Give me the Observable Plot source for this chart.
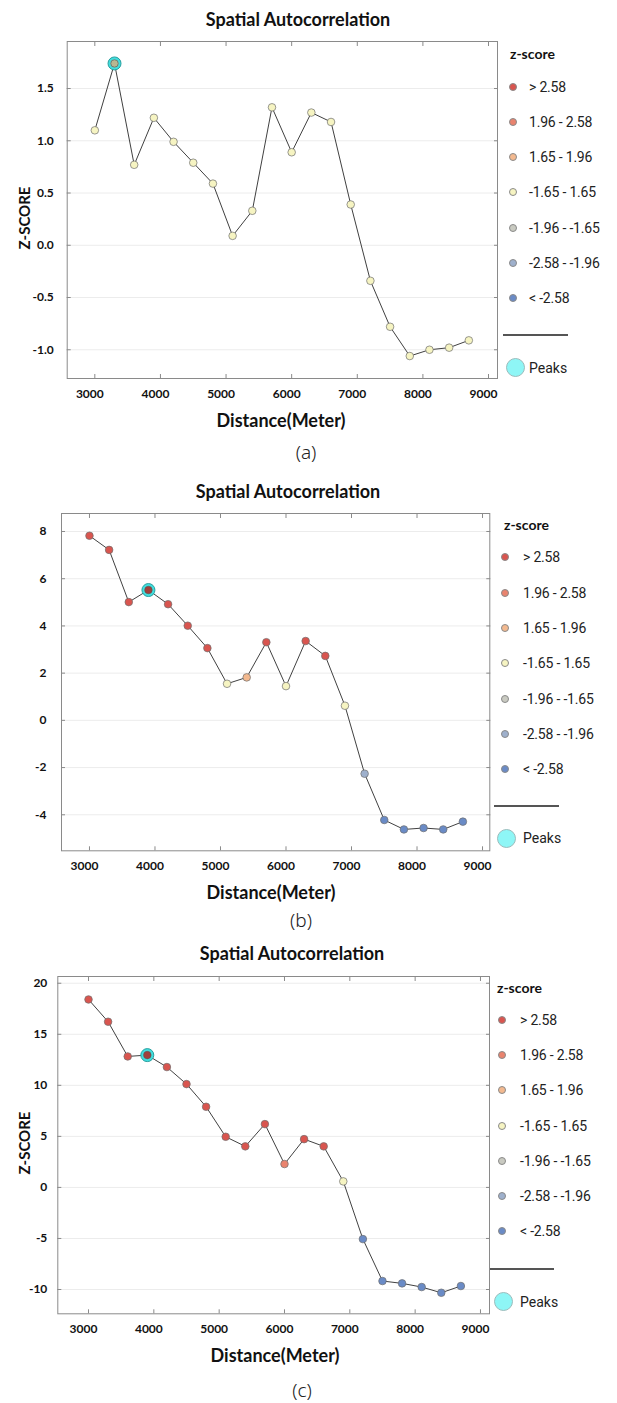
<!DOCTYPE html>
<html>
<head>
<meta charset="utf-8">
<script src="https://cdn.jsdelivr.net/npm/d3@7"></script>
<script src="https://cdn.jsdelivr.net/npm/@observablehq/plot@0.6"></script>
<style>
  body { margin: 0; background: #fff; }
  #root { position: relative; width: 617px; height: 1403px; background: #fff; overflow: hidden; font-family: Lato, "Open Sans", sans-serif; }
  .t { position: absolute; white-space: nowrap; }
  .dot { position: absolute; border-radius: 50%; box-sizing: border-box; }
</style>
</head>
<body>
<div id="root"></div>
<script>
// ---------- data ----------
const distances = [3000, 3300, 3600, 3900, 4200, 4500, 4800, 5100, 5400, 5700,
                   6000, 6300, 6600, 6900, 7200, 7500, 7800, 8100, 8400, 8700];
const zScoreA = [1.10, 1.74, 0.77, 1.22, 0.99, 0.79, 0.59, 0.09, 0.33, 1.32,
                 0.89, 1.27, 1.18, 0.39, -0.34, -0.78, -1.06, -1.00, -0.98, -0.91];
const zScoreB = [7.82, 7.22, 5.01, 5.52, 4.92, 4.01, 3.06, 1.55, 1.82, 3.31,
                 1.45, 3.36, 2.73, 0.62, -2.26, -4.22, -4.62, -4.56, -4.62, -4.29];
const zScoreC = [18.41, 16.23, 12.83, 12.96, 11.79, 10.12, 7.90, 4.96, 4.02, 6.20,
                 2.29, 4.73, 4.02, 0.59, -5.06, -9.17, -9.40, -9.76, -10.32, -9.66];
// class of each point, as coloured in the picture
const legendLabels = ["> 2.58", "1.96 - 2.58", "1.65 - 1.96", "-1.65 - 1.65", "-1.96 - -1.65", "-2.58 - -1.96", "< -2.58"];
const classColors = ["#d9554f", "#e9836e", "#f3b98f", "#f6f4c2", "#c9cac1", "#9eb0cc", "#6a8bc6"];
const classA = ["-1.65 - 1.65", "-1.65 - 1.65", "-1.65 - 1.65", "-1.65 - 1.65", "-1.65 - 1.65",
                "-1.65 - 1.65", "-1.65 - 1.65", "-1.65 - 1.65", "-1.65 - 1.65", "-1.65 - 1.65",
                "-1.65 - 1.65", "-1.65 - 1.65", "-1.65 - 1.65", "-1.65 - 1.65", "-1.65 - 1.65",
                "-1.65 - 1.65", "-1.65 - 1.65", "-1.65 - 1.65", "-1.65 - 1.65", "-1.65 - 1.65"];
const classB = ["> 2.58", "> 2.58", "> 2.58", "> 2.58", "> 2.58",
                "> 2.58", "> 2.58", "-1.65 - 1.65", "1.65 - 1.96", "> 2.58",
                "-1.65 - 1.65", "> 2.58", "> 2.58", "-1.65 - 1.65", "-2.58 - -1.96",
                "< -2.58", "< -2.58", "< -2.58", "< -2.58", "< -2.58"];
const classC = ["> 2.58", "> 2.58", "> 2.58", "> 2.58", "> 2.58",
                "> 2.58", "> 2.58", "> 2.58", "> 2.58", "> 2.58",
                "1.96 - 2.58", "> 2.58", "> 2.58", "-1.65 - 1.65", "< -2.58",
                "< -2.58", "< -2.58", "< -2.58", "< -2.58", "< -2.58"];
const peakA = [3300];
const peakB = [3900];
const peakC = [3900];
const xTicks = [3000, 4000, 5000, 6000, 7000, 8000, 9000];
const yTicksA = [-1, -0.5, 0, 0.5, 1, 1.5];
const yTicksB = [-4, -2, 0, 2, 4, 6, 8];
const yTicksC = [-10, -5, 0, 5, 10, 15, 20];
const titleText = "Spatial Autocorrelation";
const xTitle = "Distance(Meter)";
const yTitle = "Z-SCORE";
const legendTitle = "z-score";
const peaksLabel = "Peaks";

// ---------- layout ----------
const panels = [
  { z: zScoreA, cls: classA, peaks: peakA, yTicks: yTicksA, fmt: d => d.toFixed(1),
    frame: {l: 66.7, r: 497, t: 41, b: 378}, xDomain: [2579, 9137], yDomain: [-1.275, 1.95], yPad: 13.5,
    title: [298, 19], xTitle: [281, 420], yTitle: [24, 218], caption: ["(a)", 306, 452],
    legend: {titleX: 510, titleY: 54, cx: 513, tx: 529, y0: 86.7, step: 35.2, lineY: 335, lineX: [503, 568], peakCX: 515, peakY: 367.7} },
  { z: zScoreB, cls: classB, peaks: peakB, yTicks: yTicksB, fmt: d => String(d),
    frame: {l: 61, r: 489.3, t: 512.7, b: 850}, xDomain: [2573, 9111], yDomain: [-5.525, 8.762], yPad: 15,
    title: [288, 491], xTitle: [271, 891.7], yTitle: null, caption: ["(b)", 301, 920],
    legend: {titleX: 504, titleY: 525, cx: 505, tx: 523, y0: 557.3, step: 35.3, lineY: 806, lineX: [494, 558.5], peakCX: 506, peakY: 838.3} },
  { z: zScoreC, cls: classC, peaks: peakC, yTicks: yTicksC, fmt: d => String(d),
    frame: {l: 57.3, r: 489, t: 976, b: 1313.3}, xDomain: [2530, 9138], yDomain: [-12.38, 20.66], yPad: 10.5,
    title: [292, 953.3], xTitle: [275, 1355], yTitle: [24, 1143], caption: ["(c)", 302, 1390],
    legend: {titleX: 497, titleY: 988.3, cx: 502, tx: 520, y0: 1020, step: 35.2, lineY: 1269, lineX: [490, 554], peakCX: 503, peakY: 1301.7} }
];

const root = document.getElementById("root");
function textAt(str, x, y, css, anchor = "middle") {
  const d = document.createElement("div");
  d.className = "t";
  d.textContent = str;
  const h = 30;
  d.style.left = x + "px";
  d.style.top = (y - h / 2) + "px";
  d.style.height = h + "px";
  d.style.lineHeight = h + "px";
  d.style.transform = anchor === "middle" ? "translateX(-50%)" : "none";
  Object.assign(d.style, css);
  root.appendChild(d);
  return d;
}
function circleAt(cx, cy, r, fill, stroke, sw) {
  const d = document.createElement("div");
  d.className = "dot";
  d.style.left = (cx - r) + "px";
  d.style.top = (cy - r) + "px";
  d.style.width = (2 * r) + "px";
  d.style.height = (2 * r) + "px";
  d.style.background = fill;
  d.style.border = `${sw}px solid ${stroke}`;
  root.appendChild(d);
}

const frameColor = "#8a8a8a";
for (const p of panels) {
  const rows = distances.map((d, i) => ({d, z: p.z[i], cls: p.cls[i]}));
  const peakRows = rows.filter(r => p.peaks.includes(r.d));
  const mt = 10, mb = 32;
  const f = p.frame;
  const chart = Plot.plot({
    width: 617,
    height: (f.b - f.t) + mt + mb,
    marginLeft: f.l,
    marginRight: 617 - f.r,
    marginTop: mt,
    marginBottom: mb,
    style: {fontFamily: "Lato, 'Open Sans', sans-serif", fontSize: "12px", color: "#111", background: "transparent", overflow: "visible"},
    x: {domain: p.xDomain},
    y: {domain: p.yDomain},
    color: {type: "ordinal", domain: legendLabels, range: classColors},
    marks: [
      Plot.gridY(p.yTicks, {stroke: "#ececec", strokeOpacity: 1}),
      Plot.frame({stroke: frameColor}),
      Plot.axisX(xTicks, {anchor: "bottom", tickSize: -4, fill: "none", stroke: frameColor, label: null}),
      Plot.axisX(xTicks, {anchor: "top", tickSize: -4, fill: "none", stroke: frameColor, label: null}),
      Plot.axisY(p.yTicks, {anchor: "left", tickSize: -4, fill: "none", stroke: frameColor, label: null}),
      Plot.axisY(p.yTicks, {anchor: "right", tickSize: -4, fill: "none", stroke: frameColor, label: null}),
      Plot.axisX(xTicks, {anchor: "bottom", tickSize: 0, tickPadding: 10.5, dx: -5, tickFormat: d => String(d), fontWeight: "bold", fontSize: 12, label: null}),
      Plot.axisY(p.yTicks, {anchor: "left", tickSize: 0, tickPadding: p.yPad, tickFormat: p.fmt, fontWeight: "bold", fontSize: 12, label: null}),
      Plot.line(rows, {x: "d", y: "z", stroke: "#404040", strokeWidth: 1}),
      Plot.dot(peakRows, {x: "d", y: "z", r: 6.5, fill: "#3fdede", stroke: "#2a9f9f", strokeWidth: 1}),
      Plot.dot(rows, {x: "d", y: "z", r: 3.8, fill: "cls", stroke: "#6f6f6f", strokeWidth: 0.7}),
      Plot.dot(peakRows, {x: "d", y: "z", r: 3.8, fill: "#000", fillOpacity: 0.25, stroke: "none"})
    ]
  });
  chart.style.position = "absolute";
  chart.style.left = "0px";
  chart.style.top = (f.t - mt) + "px";
  root.appendChild(chart);

  // title, axis titles, caption
  textAt(titleText, p.title[0], p.title[1], {fontWeight: "bold", fontSize: "18px", color: "#111"});
  textAt(xTitle, p.xTitle[0], p.xTitle[1], {fontWeight: "bold", fontSize: "18px", color: "#111"});
  if (p.yTitle) {
    const yt = textAt(yTitle, p.yTitle[0], p.yTitle[1], {fontWeight: "bold", fontSize: "15px", color: "#111"});
    yt.style.transform = "translateX(-50%) rotate(-90deg)";
  }
  textAt(p.caption[0], p.caption[1], p.caption[2], {fontFamily: "'Noto Sans', sans-serif", fontWeight: "300", fontSize: "19px", color: "#222"});

  // legend
  const L = p.legend;
  textAt(legendTitle, L.titleX, L.titleY, {fontWeight: "bold", fontSize: "14px", color: "#111"}, "start");
  legendLabels.forEach((lab, i) => {
    const y = L.y0 + i * L.step;
    circleAt(L.cx, y, 4, classColors[i], "#8a8a8a", 0.8);
    textAt(lab, L.tx, y, {fontFamily: "Roboto, sans-serif", fontSize: "14px", letterSpacing: "-0.2px", color: "#222"}, "start");
  });
  const line = document.createElement("div");
  line.style.cssText = `position:absolute;left:${L.lineX[0]}px;top:${L.lineY - 0.75}px;width:${L.lineX[1] - L.lineX[0]}px;height:1.5px;background:#555;`;
  root.appendChild(line);
  circleAt(L.peakCX, L.peakY, 9.5, "#8ef6f6", "#9bbcbc", 1);
  textAt(peaksLabel, L.tx, L.peakY, {fontFamily: "Roboto, sans-serif", fontSize: "14px", color: "#222"}, "start");
}
</script>
</body>
</html>
